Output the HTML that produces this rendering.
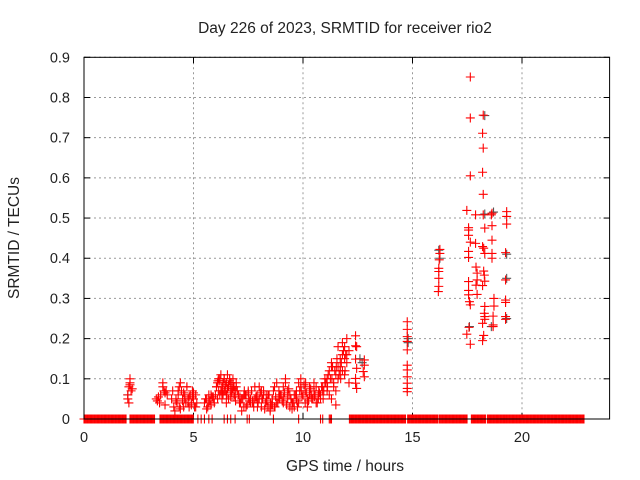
<!DOCTYPE html>
<html><head><meta charset="utf-8"><style>
body{margin:0;background:#fff;}
svg{display:block;font-family:"Liberation Sans",sans-serif;}
</style></head><body>
<svg id="chart" width="640" height="480" viewBox="0 0 640 480">
<rect width="640" height="480" fill="#fff"/>
<text x="345" y="33" font-size="15.5" text-anchor="middle" fill="#222">Day 226 of 2023, SRMTID for receiver rio2</text>
<text transform="translate(19,238) rotate(-90)" font-size="15.5" text-anchor="middle" fill="#222">SRMTID / TECUs</text>
<text x="345" y="471" font-size="15.5" text-anchor="middle" fill="#222">GPS time / hours</text>
<g id="grid"></g><g id="ticks"></g><g id="gray"></g><g id="red"></g>
<rect x="84" y="57.3" width="525.6" height="361.7" fill="none" stroke="#000" stroke-width="1"/>
</svg>
<script>
const xTicks=[0,5,10,15,20];
const yTicks=[0,0.1,0.2,0.3,0.4,0.5,0.6,0.7,0.8,0.9];
const yTickLabels=["0","0.1","0.2","0.3","0.4","0.5","0.6","0.7","0.8","0.9"];
// intervals (hours) where SRMTID = 0
const zeroStart=[0,2.1,3.47,12.12,14.78,16.21,17.69,18.42,19.27];
const zeroEnd=[1.95,3.24,4.99,14.7,16.14,17.5,18.36,19.22,22.85];
const zeroSingles=[5.2,5.35,5.5,5.7,5.85,6.4,6.55,6.7,6.9,7.45,7.55,8.65,9.8,10.8,10.9,11.2,11.3,11.25];
// red series (time, value)
const redT=[2.0,2.0,2.05,2.1,2.1,2.15,2.1,2.05,2.2,
3.3,3.35,3.4,3.45,3.5,3.6,3.65,3.7,3.75,3.8,3.7,3.6,
4.0,4.1,4.15,4.2,4.25,4.3,4.35,4.4,4.45,4.5,4.55,4.6,4.65,4.7,4.75,4.8,4.85,4.9,4.95,5.0,5.05,5.1,5.15,4.3,4.4,4.6,4.7,4.9,5.0,4.5,4.8,
5.5,5.6,5.65,5.7,5.75,5.8,5.85,5.9,5.95,5.6,5.8,
6.0,6.05,6.1,6.15,6.2,6.25,6.3,6.35,6.4,6.45,6.5,6.55,6.6,6.65,6.7,6.75,6.8,6.85,6.9,6.95,7.0,6.1,6.2,6.3,6.4,6.5,6.6,6.7,6.8,6.9,6.2,6.4,6.6,6.8,6.3,6.5,6.7,
7.1,7.2,7.3,7.4,7.5,7.6,7.7,7.8,7.9,8.0,8.1,8.2,8.3,8.4,8.5,8.6,8.7,8.8,8.9,7.2,7.4,7.6,7.8,8.0,8.2,8.4,8.6,8.8,7.3,7.7,8.1,8.5,8.9,7.5,7.9,8.3,8.7,
9.0,9.1,9.2,9.3,9.4,9.5,9.6,9.7,9.8,9.9,10.0,9.1,9.3,9.5,9.7,9.9,9.2,9.4,9.6,9.8,
10.1,10.2,10.3,10.4,10.5,10.6,10.7,10.8,10.9,11.0,10.2,10.4,10.6,10.8,11.0,10.1,10.3,10.5,10.7,10.9,
11.1,11.2,11.3,11.4,11.5,11.6,11.7,11.8,11.9,12.0,12.1,11.2,11.4,11.6,11.8,12.0,11.3,11.5,11.7,11.9,12.1,11.6,11.8,12.0,11.7,11.9,11.5,11.1,11.3,
12.4,12.4,12.45,12.4,12.45,12.4,12.4,12.45,12.8,12.8,12.75,12.8,
14.76,14.76,14.76,14.76,14.76,14.76,14.76,14.76,14.76,14.76,14.76,
16.25,16.25,16.22,16.2,16.2,16.2,16.2,16.18,
17.64,17.64,18.23,18.2,18.23,17.64,18.2,18.23,17.48,17.88,18.23,18.63,18.6,19.3,19.3,19.3,17.56,17.56,17.56,18.3,18.63,17.64,17.88,18.2,18.25,18.63,17.56,17.56,18.3,18.63,18.63,19.25,
17.9,17.95,17.95,17.9,17.95,17.56,17.56,17.56,17.6,17.64,18.25,18.28,18.3,18.2,18.72,18.72,18.3,18.28,18.3,18.3,18.68,18.68,18.68,19.25,19.25,19.25,19.25,19.25,18.2,17.58,17.48,17.64,18.25,18.2];
const redV=[0.05,0.06,0.08,0.09,0.1,0.07,0.085,0.04,0.075,
0.05,0.045,0.055,0.04,0.06,0.09,0.07,0.065,0.07,0.06,0.035,0.08,
0.05,0.03,0.02,0.05,0.04,0.06,0.08,0.09,0.07,0.05,0.03,0.06,0.04,0.08,0.05,0.03,0.06,0.04,0.07,0.05,0.03,0.06,0.04,0.07,0.025,0.05,0.08,0.035,0.065,0.045,0.055,
0.04,0.05,0.03,0.06,0.045,0.035,0.055,0.05,0.04,0.025,0.06,
0.06,0.08,0.09,0.07,0.1,0.11,0.08,0.09,0.1,0.07,0.09,0.11,0.08,0.1,0.09,0.07,0.1,0.08,0.06,0.09,0.07,0.05,0.06,0.05,0.07,0.06,0.05,0.07,0.08,0.07,0.095,0.1,0.085,0.075,0.065,0.04,0.055,
0.04,0.05,0.03,0.06,0.07,0.05,0.04,0.08,0.06,0.05,0.03,0.07,0.04,0.06,0.02,0.05,0.08,0.09,0.07,0.02,0.03,0.04,0.05,0.08,0.06,0.03,0.035,0.04,0.06,0.045,0.07,0.025,0.055,0.065,0.05,0.04,0.03,
0.06,0.08,0.1,0.05,0.03,0.04,0.06,0.07,0.09,0.08,0.06,0.04,0.07,0.025,0.05,0.1,0.09,0.06,0.03,0.04,
0.07,0.05,0.08,0.06,0.09,0.04,0.06,0.05,0.07,0.1,0.03,0.05,0.08,0.06,0.09,0.04,0.06,0.07,0.05,0.08,
0.1,0.12,0.14,0.09,0.11,0.13,0.15,0.16,0.18,0.2,0.17,0.06,0.08,0.1,0.12,0.14,0.05,0.07,0.12,0.11,0.09,0.18,0.19,0.16,0.13,0.15,0.035,0.07,0.13,
0.207,0.182,0.18,0.149,0.126,0.101,0.089,0.076,0.147,0.134,0.118,0.105,
0.242,0.223,0.205,0.193,0.172,0.134,0.122,0.105,0.089,0.076,0.068,
0.422,0.412,0.396,0.375,0.367,0.35,0.33,0.317,
0.851,0.749,0.756,0.711,0.674,0.605,0.614,0.559,0.519,0.508,0.508,0.512,0.508,0.516,0.504,0.485,0.476,0.47,0.457,0.475,0.481,0.44,0.437,0.429,0.425,0.445,0.417,0.402,0.412,0.412,0.4,0.414,
0.378,0.363,0.346,0.333,0.31,0.342,0.32,0.309,0.292,0.284,0.368,0.358,0.343,0.332,0.3,0.281,0.28,0.263,0.255,0.248,0.256,0.234,0.23,0.346,0.296,0.29,0.255,0.248,0.238,0.228,0.211,0.186,0.208,0.195];
// extra dense low-activity red points (time, value)
const red2T=[4.05,4.2,4.35,4.55,4.75,4.95,5.1,5.55,5.7,5.9,6.05,6.15,6.25,6.35,6.45,6.55,6.65,6.75,6.85,6.95,7.05,7.15,7.25,7.35,7.45,7.55,7.65,7.75,7.85,7.95,8.05,8.15,8.25,8.35,8.45,8.55,8.65,8.75,8.85,8.95,9.05,9.15,9.25,9.35,9.45,9.55,9.65,9.75,9.85,9.95,10.05,10.15,10.25,10.35,10.45,10.55,10.65,10.75,10.85,10.95,11.05,11.15,11.25,11.35,11.45,11.55,11.65,11.75,11.85,11.95,6.12,6.32,6.52,6.72,6.92,7.12,7.32,7.52,7.72,7.92,8.12,8.32,8.52,8.72,8.92,9.12,9.32,9.52,9.72,9.92,10.12,10.32,10.52,10.72,10.92,11.12,11.32,11.52,11.72,11.92];
const red2V=[0.07,0.045,0.03,0.065,0.04,0.055,0.03,0.05,0.04,0.055,0.08,0.1,0.07,0.06,0.085,0.075,0.095,0.065,0.055,0.08,0.06,0.04,0.05,0.06,0.035,0.045,0.07,0.03,0.055,0.04,0.065,0.05,0.025,0.045,0.06,0.035,0.07,0.055,0.04,0.06,0.045,0.065,0.035,0.075,0.05,0.04,0.06,0.03,0.07,0.055,0.085,0.065,0.045,0.075,0.05,0.06,0.04,0.065,0.08,0.07,0.09,0.11,0.1,0.13,0.12,0.15,0.11,0.14,0.17,0.16,0.095,0.07,0.06,0.09,0.045,0.055,0.07,0.05,0.04,0.03,0.05,0.06,0.04,0.03,0.05,0.055,0.06,0.04,0.045,0.07,0.09,0.06,0.055,0.07,0.05,0.08,0.1,0.13,0.1,0.12];
// gray series (time, value)
const grayT=[2.0,12.6,12.7,14.8,14.8,16.2,16.25,17.6,18.3,18.3,18.7,19.3,19.3,19.3,18.6];
const grayV=[0.06,0.15,0.14,0.2,0.19,0.42,0.4,0.23,0.755,0.51,0.515,0.41,0.35,0.25,0.23];

const X0=84,X1=609.6,Y0=419,Y1=57.3,XMAX=24,YMAX=0.9;
const sx=t=>X0+t/XMAX*(X1-X0);
const sy=v=>Y0-v/YMAX*(Y0-Y1);
const NS="http://www.w3.org/2000/svg";
function mk(tag,attrs,parent){const e=document.createElementNS(NS,tag);for(const k in attrs)e.setAttribute(k,attrs[k]);parent.appendChild(e);return e;}
const grid=document.getElementById('grid'),ticks=document.getElementById('ticks');
xTicks.forEach(t=>{
  const x=sx(t);
  if(t>0){const g=mk('line',{x1:x,x2:x,y1:Y1,y2:Y0,stroke:'#999','stroke-dasharray':'2,3'},grid);
  
  }
  mk('line',{x1:x,x2:x,y1:Y0,y2:Y0-6,stroke:'#000'},ticks);
  mk('line',{x1:x,x2:x,y1:Y1,y2:Y1+6,stroke:'#000'},ticks);
  const l=mk('text',{x:x,y:Y0+23,'font-size':14.5,'text-anchor':'middle',fill:'#222'},ticks);
  l.textContent=t;
  
  
});
yTicks.forEach((v,i)=>{
  const y=sy(v);
  if(v>0){const g=mk('line',{x1:X0,x2:X1,y1:y,y2:y,stroke:'#999','stroke-dasharray':'2,3'},grid);
  
  }
  mk('line',{x1:X0,x2:X0+6,y1:y,y2:y,stroke:'#000'},ticks);
  mk('line',{x1:X1,x2:X1-6,y1:y,y2:y,stroke:'#000'},ticks);
  const l=mk('text',{x:X0-14,y:y+5,'font-size':14.5,'text-anchor':'end',fill:'#222'},ticks);
  l.textContent=yTickLabels[i];
  
  
});
function plus(g,t,v,col){
  const x=sx(t),y=sy(v),a=4.5;
  const p=mk('path',{d:`M${x-a},${y}H${x+a}M${x},${y-a}V${y+a}`,stroke:col,'stroke-width':1.1,fill:'none'},g);
  
  
}
const gray=document.getElementById('gray'),red=document.getElementById('red');
grayT.forEach((t,i)=>plus(gray,t,grayV[i],'#555'));
zeroStart.forEach((s,i)=>{for(let t=s;t<=zeroEnd[i]+1e-9;t+=0.04)plus(red,t,0,'#f00');});
zeroSingles.forEach(t=>plus(red,t,0,'#f00'));
redT.forEach((t,i)=>plus(red,t,redV[i],'#f00'));
red2T.forEach((t,i)=>plus(red,t,red2V[i],'#f00'));
</script>
</body></html>
